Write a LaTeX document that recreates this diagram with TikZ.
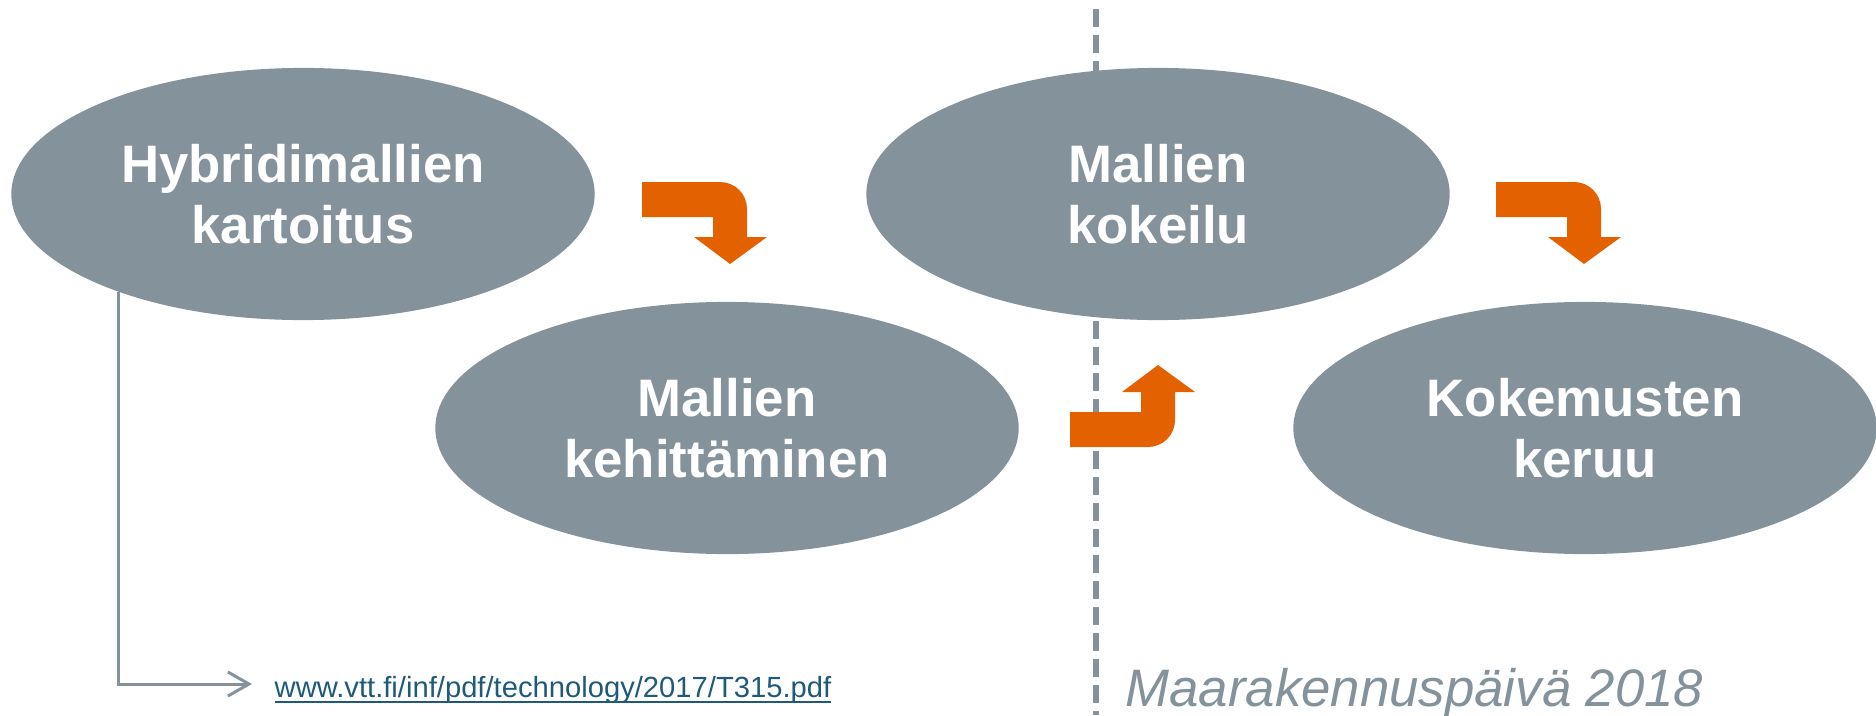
\documentclass[tikz,border=0pt]{standalone}
\usepackage{fontspec}
\setmainfont{Liberation Sans}
\usetikzlibrary{shapes.geometric,arrows.meta}
\definecolor{vttgray}{RGB}{132,146,156}
\definecolor{vttorange}{RGB}{228,97,0}
\definecolor{vttlink}{RGB}{31,90,122}
\newsavebox\linkbox
\newcommand\linkline[1]{\sbox\linkbox{#1}\rlap{\vrule width\wd\linkbox height -1.25pt depth 1.75pt}\usebox\linkbox}

\begin{document}
\begin{tikzpicture}[x=0.01cm,y=-0.01cm,
    oval/.style={ellipse,fill=vttgray,text=white,inner sep=0pt,minimum width=5.83cm,
      minimum height=2.52cm,align=center,font=\fontsize{15}{17.4}\selectfont\bfseries},
    turnarrow/.pic={\fill[vttorange] (0,0) -- (78,0) .. controls (93,0) and (105,12) .. (105,27)
      -- (105,55) -- (125,55) -- (88,82) -- (52,55) -- (71,55) -- (71,35) -- (0,35) -- cycle;}]
  \useasboundingbox (0,0) rectangle (1876,715);
  \coordinate (t) at (1096,9); \coordinate (u) at (1096,715);
  \draw[vttgray,line width=0.06cm,dash pattern=on 0.18cm off 0.08cm] (t) -- (u);
  \node[oval] (a) at (303,194) {Hybridimallien\\kartoitus};
  \node[oval] (b) at (727,428) {Mallien\\kehitt\"aminen};
  \node[oval] (c) at (1158,194) {Mallien\\kokeilu};
  \node[oval] (d) at (1585,428) {Kokemusten\\keruu};
  \pic at (642,182) {turnarrow};
  \pic[yscale=-1] at (1070,447) {turnarrow};
  \pic at (1496,182) {turnarrow};
  \node[anchor=base west,inner sep=0pt,text=vttlink,font=\fontsize{8.3}{10}\selectfont] (url)
    at (274,697) {\linkline{www.vtt.fi/inf/pdf/technology/2017/T315.pdf}};
  \node[anchor=base west,inner sep=0pt,text=vttgray,font=\fontsize{15}{18}\selectfont\itshape] (date)
    at (1125,706) {Maarakennusp\"aiv\"a 2018};
  \draw[vttgray,line width=0.03cm,-{Straight Barb[length=0.21cm,width=0.24cm]},shorten >=0.22cm]
    (a.208) |- ([yshift=0.055cm]url.west);
\end{tikzpicture}
\end{document}
